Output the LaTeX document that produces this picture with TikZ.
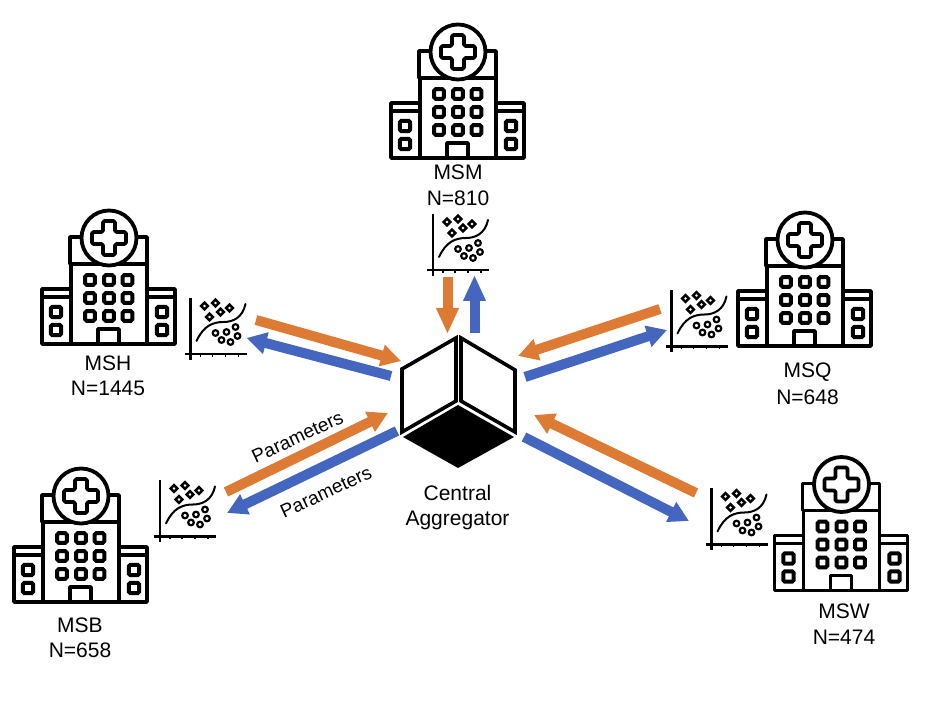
\documentclass[tikz,border=0pt]{standalone}
\usepackage{fontspec}
\setmainfont{Liberation Sans}
\usetikzlibrary{arrows.meta}
\definecolor{orangeA}{HTML}{DD7A33}
\definecolor{blueA}{HTML}{4466BE}
\tikzset{
  x=1pt,y=-1pt,
  ink/.style={draw=black,line width=3.8pt,line join=round},
  win/.style={draw=black,line width=4pt,rounded corners=1.5pt},
  lab/.style={font=\fontsize{21}{25}\selectfont,text=black,inner sep=0pt,anchor=center},
  parlab/.style={font=\fontsize{19}{23}\selectfont,text=black,inner sep=0pt,rotate=25},
  toHub/.style={draw=orangeA,line width=10pt,-{Triangle[length=20pt,width=21pt]}},
  fromHub/.style={draw=blueA,line width=10pt,-{Triangle[length=20pt,width=21pt]}},
  toHubLong/.style={draw=orangeA,line width=10pt,-{Triangle[length=26pt,width=21pt]}},
  fromHubLong/.style={draw=blueA,line width=10pt,-{Triangle[length=26pt,width=21pt]}},
  panel/.style={draw=black,fill=white,line width=3.6pt,line join=miter},
  hospital/.pic={
    \draw[ink,fill=white] (-67,59) -- (-67,106) -- (66,106) -- (66,59);
    \draw[ink,fill=white] (-67,59) rectangle (66,51);
    \draw[ink,fill=white] (-38,26) rectangle (38,106);
    \draw[ink,fill=white] (-39,26) -- (-39,-1) -- (38,-1) -- (38,26) -- cycle;
    \draw[ink,fill=white] (0,0) circle[radius=27.5];
    \draw[ink,rounded corners=1.5pt] (-6,-17) -- (6,-17) -- (6,-6) -- (17,-6) -- (17,6) -- (6,6) -- (6,17) -- (-6,17) -- (-6,6) -- (-17,6) -- (-17,-6) -- (-6,-6) -- cycle;
    \foreach \wx in {-19,0,18.5} \foreach \wy in {42,60,78}
      \draw[win] (\wx-4.8,\wy-4.8) rectangle (\wx+4.8,\wy+4.8);
    \foreach \wx in {-53,53} \foreach \wy in {74,92}
      \draw[win] (\wx-5.2,\wy-5.2) rectangle (\wx+5.2,\wy+5.2);
    \draw[ink] (-11,106) -- (-11,91) -- (10,91) -- (10,106);
  },
  scatterplot/.pic={
    \draw[black,line width=2.3pt] (0,-56) -- (0,6);
    \draw[black,line width=2.3pt] (-6,0) -- (56,0);
    \foreach \tx in {10,22,35,48} \draw[black,line width=1.8pt] (\tx,0) -- (\tx,3);
    \draw[black,line width=2pt,line cap=round] (6,-13) .. controls (13,-28) and (22,-32) .. (33,-32) .. controls (42,-32) and (52,-36) .. (55,-50);
    \foreach \px/\py in {14/-48,25/-51,39/-46,19/-37,30/-42}
      \draw[black,line width=2.4pt] (\px-3.4,\py) -- (\px,\py-3.4) -- (\px+3.4,\py) -- (\px,\py+3.4) -- cycle;
    \foreach \px/\py in {25/-21,36/-22,45/-27,47/-18,40/-12,31/-14}
      \draw[black,line width=2.2pt] (\px,\py) circle[radius=2.8];
  }
}
\begin{document}
\begin{tikzpicture}
\useasboundingbox (0,0) rectangle (938,708);
% hospitals
\pic (hMSM) at (458,52) {hospital};
\pic (hMSH) at (109,238) {hospital};
\pic (hMSQ) at (805,240) {hospital};
\pic (hMSB) at (81,496) {hospital};
\pic (hMSW) at (841.5,484.5) {hospital};
% scatter plots
\pic (sMSM) at (433,270) {scatterplot};
\pic (sMSH) at (190.5,354) {scatterplot};
\pic (sMSQ) at (671.5,346.5) {scatterplot};
\pic (sMSB) at (160,536.5) {scatterplot};
\pic (sMSW) at (711.5,544.5) {scatterplot};
% labels
\node[lab] (nMSM) at (458,172) {MSM};
\node[lab] (cMSM) at (458,198) {N=810};
\node[lab] (nMSH) at (108,363) {MSH};
\node[lab] (cMSH) at (108,388) {N=1445};
\node[lab] (nMSQ) at (807.5,372) {MSQ};
\node[lab] (cMSQ) at (807.5,397) {N=648};
\node[lab] (nMSB) at (80,625) {MSB};
\node[lab] (cMSB) at (80,650) {N=658};
\node[lab] (nMSW) at (844,611) {MSW};
\node[lab] (cMSW) at (844,637) {N=474};
\node[lab] (central) at (457.5,493) {Central};
\node[lab] (aggr) at (457.5,520) {Aggregator};
% aggregator cube
\draw[panel] (456,338) -- (402,369) -- (402,432) -- (456,401) -- cycle;
\draw[panel] (461,338) -- (515,370) -- (515,432) -- (461,401) -- cycle;
\fill[black] (458,405) -- (514,437) -- (458,468) -- (403,437) -- cycle;
% arrow ends
\coordinate (a1s) at (447.5,277); \coordinate (a1e) at (447.5,334);
\coordinate (b1s) at (474.5,333); \coordinate (b1e) at (474.5,275);
\coordinate (a2s) at (256,320);   \coordinate (a2e) at (401,361);
\coordinate (b2s) at (391,376);   \coordinate (b2e) at (246.5,338);
\coordinate (a3s) at (660,309);   \coordinate (a3e) at (518,356);
\coordinate (b3s) at (525,377);   \coordinate (b3e) at (667,330);
\coordinate (a4s) at (226,492);   \coordinate (a4e) at (388,413);
\coordinate (b4s) at (397,431);   \coordinate (b4e) at (227,513);
\coordinate (a5s) at (696,493);   \coordinate (a5e) at (534,415);
\coordinate (b5s) at (524,437);   \coordinate (b5e) at (689,521);
\draw[toHubLong] (a1s) -- (a1e);
\draw[fromHubLong] (b1s) -- (b1e);
\draw[toHub] (a2s) -- (a2e);
\draw[fromHub] (b2s) -- (b2e);
\draw[toHub] (a3s) -- (a3e);
\draw[fromHub] (b3s) -- (b3e);
\draw[toHub] (a4s) -- (a4e);
\draw[fromHub] (b4s) -- (b4e);
\draw[toHub] (a5s) -- (a5e);
\draw[fromHub] (b5s) -- (b5e);
\node[parlab] (p1) at (297.5,437) {Parameters};
\node[parlab] (p2) at (326,492) {Parameters};
\end{tikzpicture}
\end{document}
